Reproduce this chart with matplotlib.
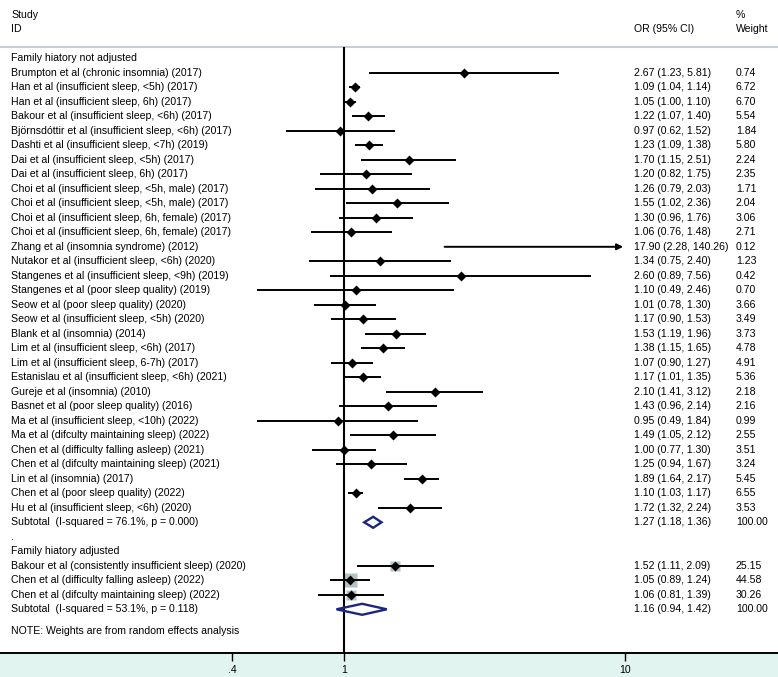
import numpy as np
import matplotlib
matplotlib.use("Agg")
import matplotlib.pyplot as plt
from matplotlib.patches import Polygon

plt.rcParams['font.family'] = ['Liberation Sans', 'DejaVu Sans']
FS = 7.6

# group 1: family history not adjusted
studies_1 = [
    "Brumpton et al (chronic insomnia) (2017)",
    "Han et al (insufficient sleep, <5h) (2017)",
    "Han et al (insufficient sleep, 6h) (2017)",
    "Bakour et al (insufficient sleep, <6h) (2017)",
    "Björnsdóttir et al (insufficient sleep, <6h) (2017)",
    "Dashti et al (insufficient sleep, <7h) (2019)",
    "Dai et al (insufficient sleep, <5h) (2017)",
    "Dai et al (insufficient sleep, 6h) (2017)",
    "Choi et al (insufficient sleep, <5h, male) (2017)",
    "Choi et al (insufficient sleep, <5h, male) (2017)",
    "Choi et al (insufficient sleep, 6h, female) (2017)",
    "Choi et al (insufficient sleep, 6h, female) (2017)",
    "Zhang et al (insomnia syndrome) (2012)",
    "Nutakor et al (insufficient sleep, <6h) (2020)",
    "Stangenes et al (insufficient sleep, <9h) (2019)",
    "Stangenes et al (poor sleep quality) (2019)",
    "Seow et al (poor sleep quality) (2020)",
    "Seow et al (insufficient sleep, <5h) (2020)",
    "Blank et al (insomnia) (2014)",
    "Lim et al (insufficient sleep, <6h) (2017)",
    "Lim et al (insufficient sleep, 6-7h) (2017)",
    "Estanislau et al (insufficient sleep, <6h) (2021)",
    "Gureje et al (insomnia) (2010)",
    "Basnet et al (poor sleep quality) (2016)",
    "Ma et al (insufficient sleep, <10h) (2022)",
    "Ma et al (difculty maintaining sleep) (2022)",
    "Chen et al (difficulty falling asleep) (2021)",
    "Chen et al (difculty maintaining sleep) (2021)",
    "Lin et al (insomnia) (2017)",
    "Chen et al (poor sleep quality) (2022)",
    "Hu et al (insufficient sleep, <6h) (2020)",
]
or_1 = [2.67, 1.09, 1.05, 1.22, 0.97, 1.23, 1.70, 1.20, 1.26, 1.55, 1.30, 1.06,
        17.90, 1.34, 2.60, 1.10, 1.01, 1.17, 1.53, 1.38, 1.07, 1.17, 2.10, 1.43,
        0.95, 1.49, 1.00, 1.25, 1.89, 1.10, 1.72]
lo_1 = [1.23, 1.04, 1.00, 1.07, 0.62, 1.09, 1.15, 0.82, 0.79, 1.02, 0.96, 0.76,
        2.28, 0.75, 0.89, 0.49, 0.78, 0.90, 1.19, 1.15, 0.90, 1.01, 1.41, 0.96,
        0.49, 1.05, 0.77, 0.94, 1.64, 1.03, 1.32]
hi_1 = [5.81, 1.14, 1.10, 1.40, 1.52, 1.38, 2.51, 1.75, 2.03, 2.36, 1.76, 1.48,
        140.26, 2.40, 7.56, 2.46, 1.30, 1.53, 1.96, 1.65, 1.27, 1.35, 3.12, 2.14,
        1.84, 2.12, 1.30, 1.67, 2.17, 1.17, 2.24]
wt_1 = [0.74, 6.72, 6.70, 5.54, 1.84, 5.80, 2.24, 2.35, 1.71, 2.04, 3.06, 2.71,
        0.12, 1.23, 0.42, 0.70, 3.66, 3.49, 3.73, 4.78, 4.91, 5.36, 2.18, 2.16,
        0.99, 2.55, 3.51, 3.24, 5.45, 6.55, 3.53]
sub_1 = (1.27, 1.18, 1.36)
sub_1_label = "Subtotal  (I-squared = 76.1%, p = 0.000)"

# group 2: family history adjusted
studies_2 = [
    "Bakour et al (consistently insufficient sleep) (2020)",
    "Chen et al (difficulty falling asleep) (2022)",
    "Chen et al (difculty maintaining sleep) (2022)",
]
or_2 = [1.52, 1.05, 1.06]
lo_2 = [1.11, 0.89, 0.81]
hi_2 = [2.09, 1.24, 1.39]
wt_2 = [25.15, 44.58, 30.26]
sub_2 = (1.16, 0.94, 1.42)
sub_2_label = "Subtotal  (I-squared = 53.1%, p = 0.118)"

xticks = [0.4, 1, 10]
xticklabels = [".4", "1", "10"]
xmax = 10

W, H = 778, 677
fig = plt.figure(figsize=(W / 100, H / 100), dpi=100)
fig.patch.set_facecolor('#e2f4ef')
ax = fig.add_axes([0, 24 / H, 1, 653 / H])
ax.set_facecolor('white')
ax.set_xscale('log')
px_per_dec = 281
ax.set_xlim(10 ** (-344 / px_per_dec), 10 ** ((W - 344) / px_per_dec))
ax.set_ylim(653, 0)
for s in ['top', 'left', 'right']:
    ax.spines[s].set_visible(False)
ax.spines['bottom'].set_linewidth(1.4)
ax.set_yticks([])
ax.set_xticks(xticks)
ax.set_xticklabels(xticklabels, fontsize=FS)
ax.xaxis.set_minor_locator(matplotlib.ticker.NullLocator())
ax.tick_params(axis='x', length=6, width=1, pad=2.5)

tr = ax.get_yaxis_transform()
x_lab, x_or, x_wt = 11 / W, 634 / W, 736 / W
row0, step = 58.3, 14.5
ry = lambda i: row0 + step * i

# header
ax.text(x_lab, 14.7, "Study", transform=tr, fontsize=FS, va='center')
ax.text(x_lab, 29.3, "ID", transform=tr, fontsize=FS, va='center')
ax.text(x_or, 29.3, "OR (95% CI)", transform=tr, fontsize=FS, va='center')
ax.text(x_wt, 14.7, "%", transform=tr, fontsize=FS, va='center')
ax.text(x_wt, 29.3, "Weight", transform=tr, fontsize=FS, va='center')
ax.axhline(46.7, color='#c3d1d5', lw=1.5)
ax.plot([1, 1], [47.5, 653], color='black', lw=1.5, zorder=3)

box_col = '#b2c3c6'


def draw_group(start, title, names, ors, los, his, wts, sub, sub_label):
    ax.text(x_lab, ry(start), title, transform=tr, fontsize=FS, va='center')
    for k, (n, o, l, h, w) in enumerate(zip(names, ors, los, his, wts)):
        y = ry(start + 1 + k)
        ax.text(x_lab, y, n, transform=tr, fontsize=FS, va='center')
        ax.text(x_or, y, f"{o:.2f} ({l:.2f}, {h:.2f})", transform=tr, fontsize=FS, va='center')
        ax.text(x_wt, y, f"{w:.2f}", transform=tr, fontsize=FS, va='center')
        if o <= xmax:
            ax.plot([o], [y], marker='s', ms=1.95 * np.sqrt(w) * 0.72,
                    color=box_col, mec='none', zorder=2)
        if h > xmax:
            ax.annotate("", xy=(xmax * 0.985, y), xytext=(l, y),
                        arrowprops=dict(arrowstyle='-|>', color='black', lw=1.4,
                                        mutation_scale=9, shrinkA=0, shrinkB=0),
                        zorder=4)
        else:
            ax.plot([l, h], [y, y], color='black', lw=1.4, solid_capstyle='butt', zorder=4)
        if o <= xmax:
            ax.plot([o], [y], marker='D', ms=5, color='black', mec='none', zorder=5)
    ys = ry(start + 1 + len(names))
    o, l, h = sub
    ax.text(x_lab, ys, sub_label, transform=tr, fontsize=FS, va='center')
    ax.text(x_or, ys, f"{o:.2f} ({l:.2f}, {h:.2f})", transform=tr, fontsize=FS, va='center')
    ax.text(x_wt, ys, "100.00", transform=tr, fontsize=FS, va='center')
    dia = Polygon([(l, ys), (o, ys - 5.5), (h, ys), (o, ys + 5.5)], closed=True,
                  fill=False, edgecolor='#1c2680', lw=1.7, zorder=6)
    ax.add_patch(dia)
    return start + 2 + len(names)


nxt = draw_group(0, "Family hiatory not adjusted", studies_1, or_1, lo_1, hi_1, wt_1,
                 sub_1, sub_1_label)
ax.text(x_lab, ry(nxt), ".", transform=tr, fontsize=FS, va='center')
nxt = draw_group(nxt + 1, "Family hiatory adjusted", studies_2, or_2, lo_2, hi_2, wt_2,
                 sub_2, sub_2_label)
ax.text(x_lab, ry(nxt + 0.5), "NOTE: Weights are from random effects analysis",
        transform=tr, fontsize=FS, va='center')

fig.savefig("out.png", dpi=100, facecolor=fig.get_facecolor())
